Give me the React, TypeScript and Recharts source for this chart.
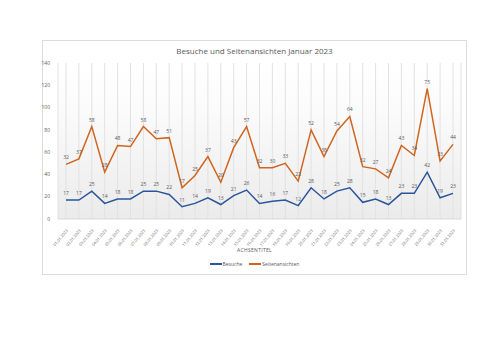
import { LineChart, Line, XAxis, YAxis, CartesianGrid, LabelList } from 'recharts'

const tage = [
  '01.01.2023', '02.01.2023', '03.01.2023', '04.01.2023', '05.01.2023', '06.01.2023', '07.01.2023',
  '08.01.2023', '09.01.2023', '10.01.2023', '11.01.2023', '12.01.2023', '13.01.2023', '14.01.2023',
  '15.01.2023', '16.01.2023', '17.01.2023', '18.01.2023', '19.01.2023', '20.01.2023', '21.01.2023',
  '22.01.2023', '23.01.2023', '24.01.2023', '25.01.2023', '26.01.2023', '27.01.2023', '28.01.2023',
  '29.01.2023', '30.01.2023', '31.01.2023',
]
const besuche = [17, 17, 25, 14, 18, 18, 25, 25, 22, 11, 14, 19, 13, 21, 26, 14, 16, 17, 12, 28, 18, 25, 28, 15, 18, 13, 23, 23, 42, 19, 23]
const seitenansichten = [32, 37, 58, 28, 48, 47, 58, 47, 51, 17, 25, 37, 20, 43, 57, 32, 30, 33, 22, 52, 38, 54, 64, 32, 27, 24, 43, 34, 75, 33, 44]
const yTicks = [0, 20, 40, 60, 80, 100, 120, 140]

// Excel-style stacked line: orange is drawn at besuche + seitenansichten
const data = tage.map((tag, i) => ({
  tag,
  besuche: besuche[i],
  seiten: seitenansichten[i],
  gesamt: besuche[i] + seitenansichten[i],
}))

const BLUE = '#2a559a'
const ORANGE = '#d0651f'
const TEXT = '#595959'
const FONT = '"Open Sans", "Liberation Sans", sans-serif'

export default function App() {
  return (
    <div style={{ position: 'absolute', left: 0, top: 0, width: 500, height: 353, background: '#fff', fontFamily: FONT }}>
      <div style={{ position: 'absolute', left: 42, top: 40, width: 423, height: 233, border: '1px solid #dcdcdc' }} />
      <div style={{ position: 'absolute', left: 42, top: 45, width: 425, textAlign: 'center', fontSize: 8, color: TEXT }}>
        Besuche und Seitenansichten Januar 2023
      </div>
      <div style={{ position: 'absolute', left: 0, top: 0 }}>
        <LineChart width={500} height={353} data={data} margin={{ top: 63, right: 39, bottom: 104, left: 20 }}>
          <defs>
            <linearGradient id="plotBg" x1="0" y1="0" x2="0" y2="1">
              <stop offset="0%" stopColor="#ffffff" />
              <stop offset="30%" stopColor="#fbfbfb" />
              <stop offset="100%" stopColor="#ebebeb" />
            </linearGradient>
          </defs>
          <CartesianGrid horizontal={false} stroke="#e2e2e2" fill="url(#plotBg)" />
          <XAxis
            dataKey="tag"
            interval={0}
            height={30}
            padding={{ left: 8, right: 8 }}
            tickLine={false}
            axisLine={{ stroke: '#d9d9d9' }}
            angle={-50}
            textAnchor="end"
            tick={{ fontSize: 4, fill: '#666666' }}
            tickMargin={4}
          />
          <YAxis
            width={38}
            domain={[0, 140]}
            ticks={yTicks}
            axisLine={false}
            tickLine={false}
            tick={{ fontSize: 5, fill: TEXT }}
          />
          <Line type="linear" dataKey="besuche" stroke={BLUE} strokeWidth={1.5} dot={false} isAnimationActive={false}>
            <LabelList dataKey="besuche" position="top" offset={5} fontSize={5} fill={TEXT} />
          </Line>
          <Line type="linear" dataKey="gesamt" stroke={ORANGE} strokeWidth={1.5} dot={false} isAnimationActive={false}>
            <LabelList dataKey="seiten" position="top" offset={5} fontSize={5} fill={TEXT} />
          </Line>
        </LineChart>
      </div>
      <div style={{ position: 'absolute', left: 42, top: 247, width: 425, textAlign: 'center', fontSize: 5, color: TEXT, letterSpacing: 0.3 }}>
        ACHSENTITEL
      </div>
      <div style={{ position: 'absolute', left: 42, top: 261, width: 425, display: 'flex', justifyContent: 'center', gap: 7, fontSize: 5, color: TEXT }}>
        <span style={{ display: 'flex', alignItems: 'center', gap: 1 }}>
          <span style={{ width: 12, height: 1.5, background: BLUE, display: 'inline-block' }} />Besuche
        </span>
        <span style={{ display: 'flex', alignItems: 'center', gap: 1 }}>
          <span style={{ width: 12, height: 1.5, background: ORANGE, display: 'inline-block' }} />Seitenansichten
        </span>
      </div>
    </div>
  )
}
